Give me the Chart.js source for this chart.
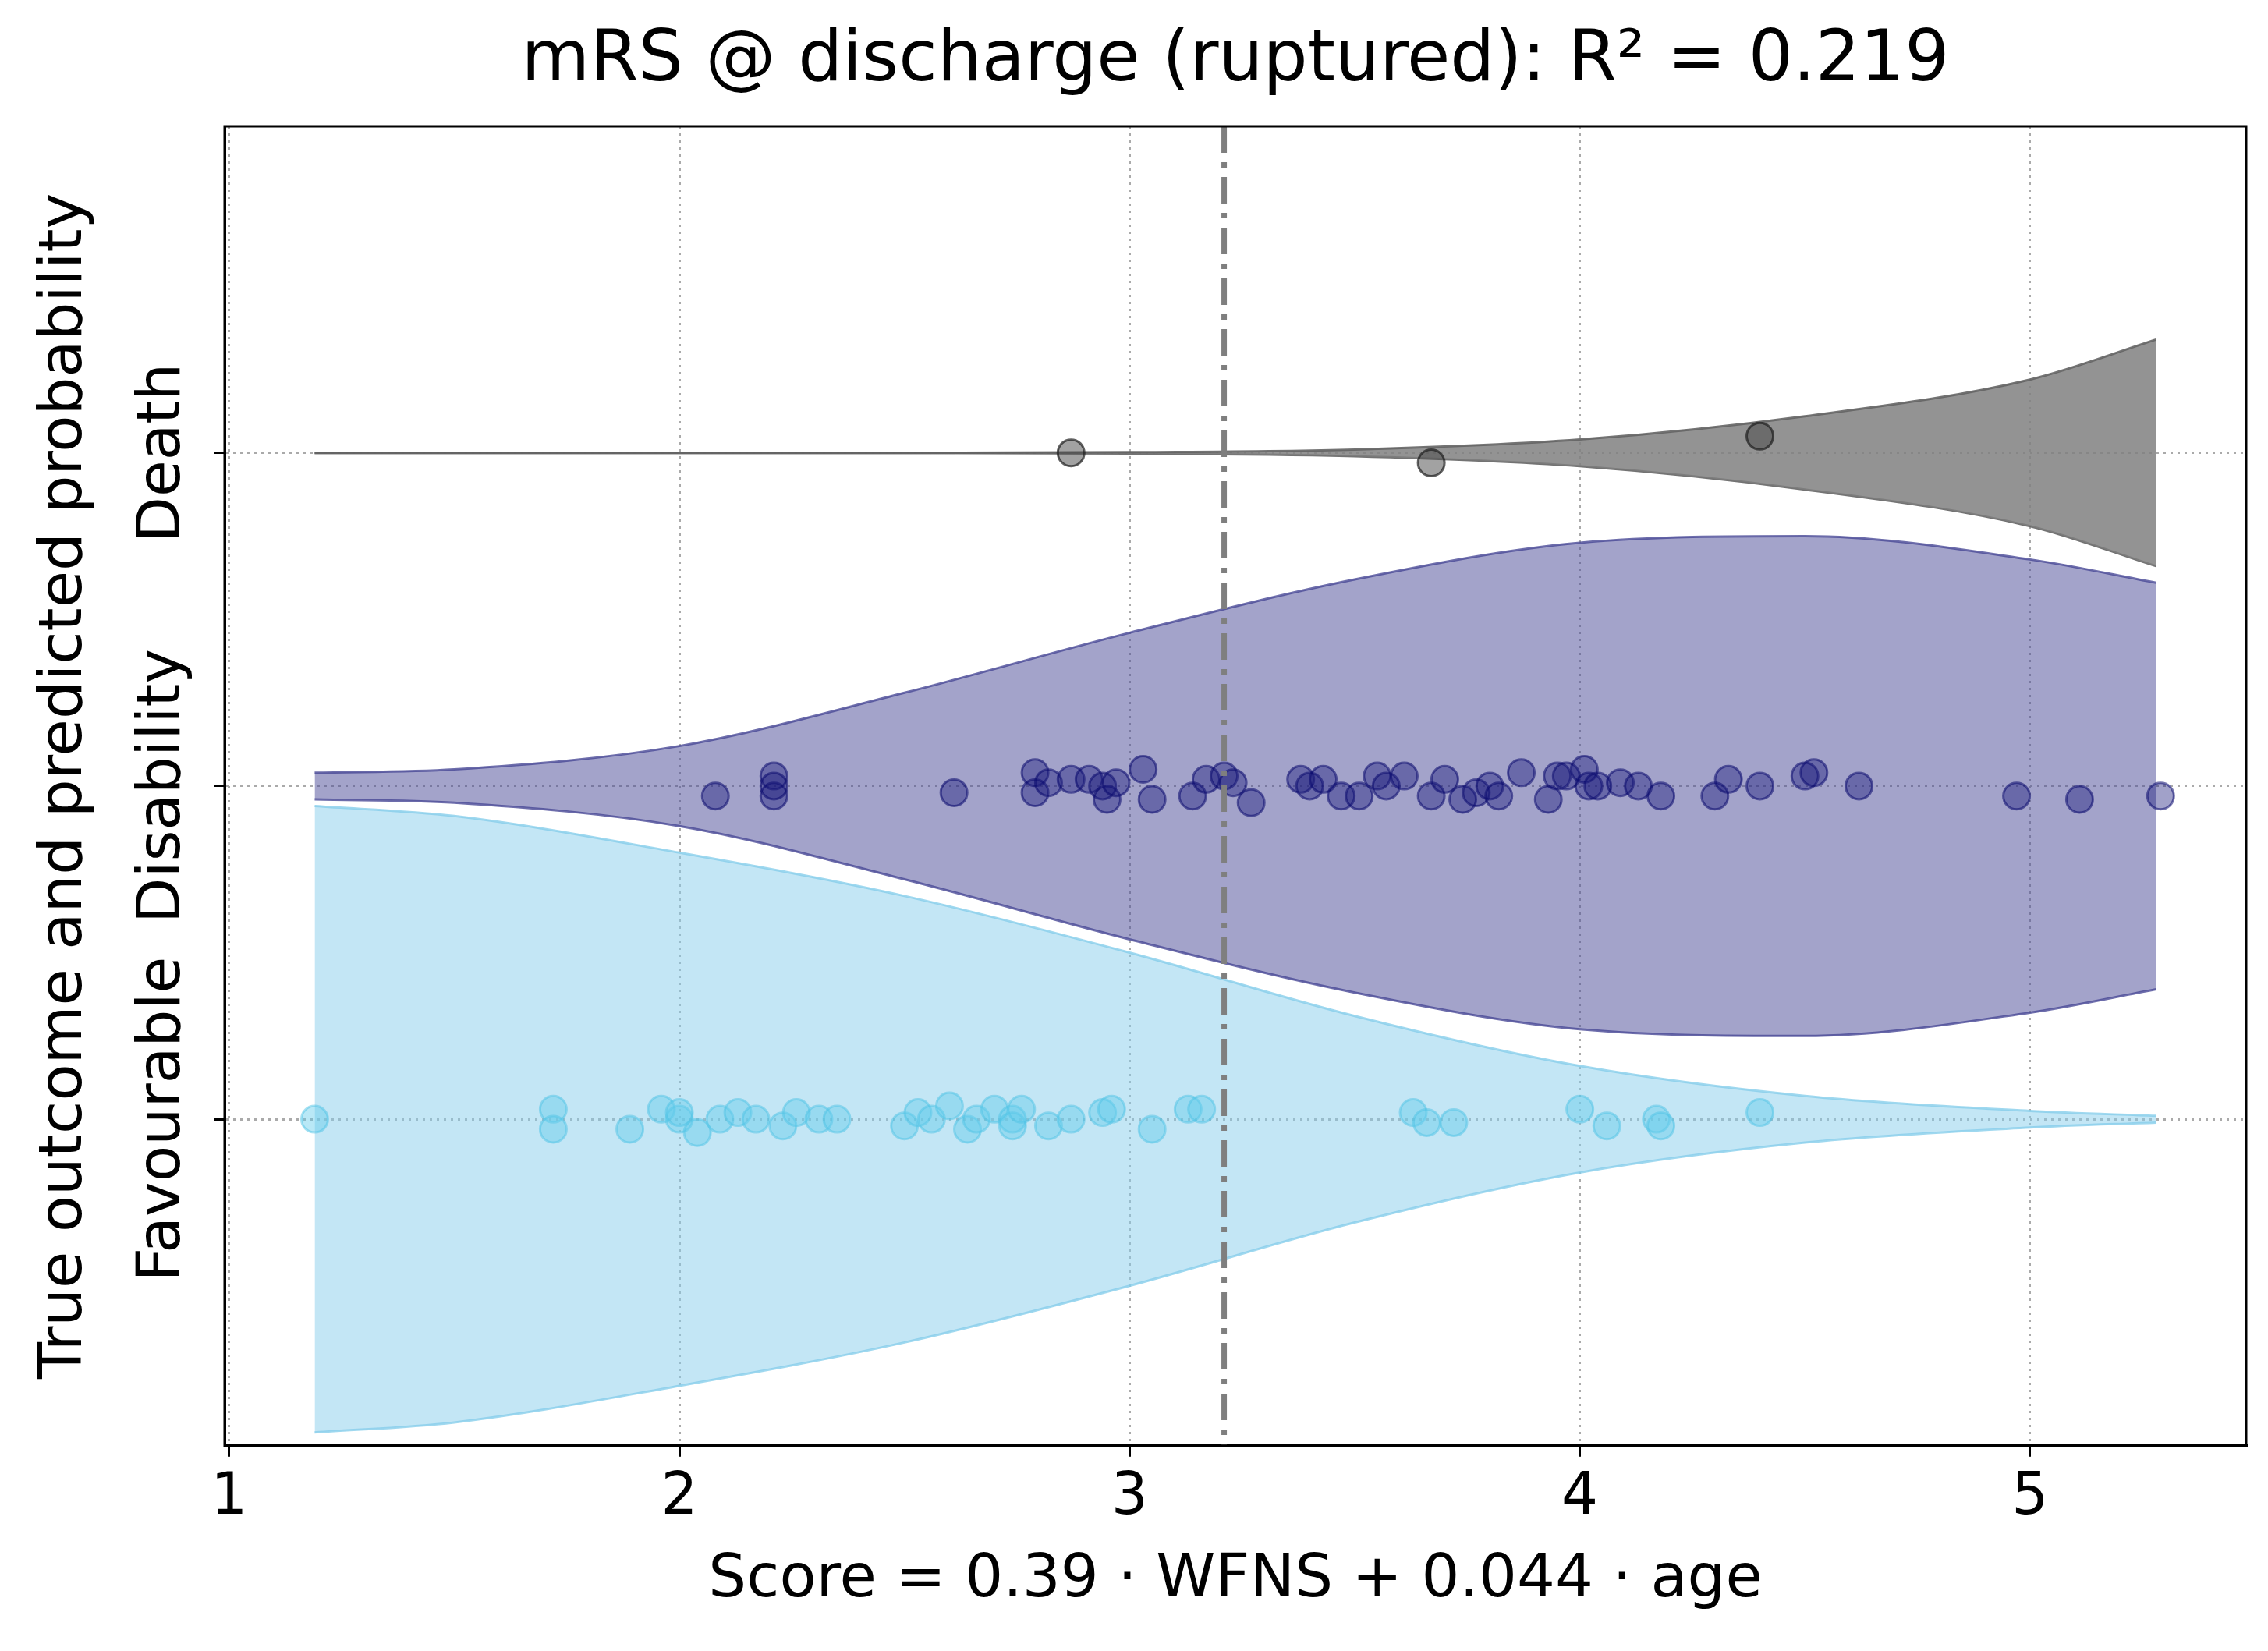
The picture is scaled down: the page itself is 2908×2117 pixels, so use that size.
<!DOCTYPE html>
<html>
<head>
<meta charset="utf-8">
<script src="https://cdn.jsdelivr.net/npm/chart.js@4/dist/chart.umd.min.js"></script>
<style>
  body { margin: 0; background: #fff; }
  #wrap { width: 2908px; height: 2117px; }
</style>
</head>
<body>
<div id="wrap"><canvas id="chart" width="2908" height="2117"></canvas></div>
<script>
// Outcome categories (y = 0, 1, 2)
const categories = ['Favourable', 'Disability', 'Death'];

// Violin half-widths (predicted probability) along the score axis
const violinX = [1.19, 1.5, 2.0, 2.5, 3.0, 3.5, 4.0, 4.5, 5.0, 5.28];
const favourableWidth = [0.94, 0.91, 0.80, 0.67, 0.50, 0.31, 0.16, 0.07, 0.025, 0.01];
const disabilityWidth = [0.04, 0.05, 0.12, 0.28, 0.46, 0.62, 0.73, 0.75, 0.68, 0.61];
const deathWidth = [0.0, 0.0, 0.0, 0.0, 0.002, 0.01, 0.04, 0.11, 0.22, 0.34];

// Observed patients: score and small vertical jitter
const deathX = [2.87, 3.67, 4.40];
const deathJitter = [0.0, -0.03, 0.05];
const disabilityX = [2.08, 2.21, 2.21, 2.21, 2.61, 2.79, 2.79, 2.82, 2.87, 2.91, 2.94, 2.95, 2.97, 3.03, 3.05, 3.14, 3.17, 3.21, 3.23, 3.27,
  3.38, 3.40, 3.43, 3.47, 3.51, 3.55, 3.57, 3.61, 3.67, 3.70, 3.74, 3.77, 3.80, 3.82, 3.87, 3.93, 3.95, 3.97, 4.01, 4.02,
  4.04, 4.09, 4.13, 4.18, 4.30, 4.33, 4.40, 4.50, 4.52, 4.62, 4.97, 5.11, 5.29];
const disabilityJitter = [-0.03, 0.03, -0.03, 0.0, -0.02, 0.04, -0.02, 0.01, 0.02, 0.02, 0.0, -0.04, 0.01, 0.05, -0.04, -0.03, 0.02, 0.03, 0.01, -0.05,
  0.02, 0.0, 0.02, -0.03, -0.03, 0.03, 0.0, 0.03, -0.03, 0.02, -0.04, -0.02, 0.0, -0.03, 0.04, -0.04, 0.03, 0.03, 0.05, 0.0,
  0.0, 0.01, 0.0, -0.03, -0.03, 0.02, 0.0, 0.03, 0.04, 0.0, -0.03, -0.04, -0.03];
const favourableX = [1.19, 1.72, 1.72, 1.89, 1.96, 2.0, 2.0, 2.04, 2.09, 2.13, 2.17, 2.23, 2.26, 2.31, 2.35, 2.50, 2.53, 2.56, 2.60, 2.64,
  2.66, 2.70, 2.74, 2.74, 2.76, 2.82, 2.87, 2.94, 2.96, 3.05, 3.13, 3.16, 3.63, 3.66, 3.72, 4.00, 4.06, 4.17, 4.18, 4.40];
const favourableJitter = [0.0, 0.03, -0.03, -0.03, 0.03, 0.0, 0.02, -0.04, 0.0, 0.02, 0.0, -0.02, 0.02, 0.0, 0.0, -0.02, 0.02, 0.0, 0.04, -0.03,
  0.0, 0.03, 0.0, -0.02, 0.03, -0.02, 0.0, 0.02, 0.03, -0.03, 0.03, 0.03, 0.02, -0.01, -0.01, 0.03, -0.02, 0.0, -0.02, 0.02];

// Decision threshold
const thresholdX = 3.21;

const xTicks = [1, 2, 3, 4, 5];

// Build an upper/lower edge pair for a violin centred on y
function violin(center, widths, fillColor, lineColor) {
  const upper = violinX.map((x, i) => ({ x: x, y: center + widths[i] }));
  const lower = violinX.map((x, i) => ({ x: x, y: center - widths[i] }));
  const base = {
    type: 'line', showLine: true, pointRadius: 0, cubicInterpolationMode: 'monotone',
    borderColor: lineColor, borderWidth: 3, order: 5,
  };
  return [
    Object.assign({}, base, { data: upper, fill: '+1', backgroundColor: fillColor }),
    Object.assign({}, base, { data: lower, fill: false }),
  ];
}

function points(xs, jitter, center, fill, edge) {
  return {
    type: 'scatter',
    data: xs.map((x, i) => ({ x: x, y: center + jitter[i] })),
    pointRadius: 17, pointBackgroundColor: fill, pointBorderColor: edge,
    pointBorderWidth: 3, order: 1,
  };
}

// Frame, dash-dot threshold line and rotated category labels
const extras = {
  id: 'extras',
  afterDatasetsDraw(chart) {
    const { ctx, scales, chartArea } = chart;
    const px = scales.x.getPixelForValue(thresholdX);
    ctx.save();
    ctx.strokeStyle = '#7f7f7f';
    ctx.lineWidth = 7;
    ctx.setLineDash([34, 12, 7, 12]);
    ctx.beginPath();
    ctx.moveTo(px, chartArea.top);
    ctx.lineTo(px, chartArea.bottom);
    ctx.stroke();
    ctx.restore();
  },
  afterDraw(chart) {
    const { ctx, scales, chartArea } = chart;
    ctx.save();
    ctx.strokeStyle = '#000';
    ctx.lineWidth = 3;
    ctx.strokeRect(chartArea.left, chartArea.top, chartArea.right - chartArea.left, chartArea.bottom - chartArea.top);
    ctx.fillStyle = '#000';
    ctx.font = '76px "DejaVu Sans"';
    ctx.textAlign = 'center';
    ctx.textBaseline = 'bottom';
    categories.forEach((c, i) => {
      const py = scales.y.getPixelForValue(i);
      ctx.save();
      ctx.translate(scales.y.right - 40, py);
      ctx.rotate(-Math.PI / 2);
      ctx.fillText(c, 0, 0);
      ctx.restore();
    });
    ctx.restore();
  },
};

const gridStyle = { color: '#aaaaaa', lineWidth: 3, tickColor: '#000', tickLength: 14 };
const borderStyle = { color: '#000', width: 3, dash: [3, 6] };

const ctx = document.getElementById('chart').getContext('2d');
new Chart(ctx, {
  data: {
    datasets: [
      ...violin(0, favourableWidth, 'rgba(135,206,235,0.5)', 'rgba(135,206,235,0.8)'),
      ...violin(1, disabilityWidth, 'rgba(72,72,150,0.5)', 'rgba(72,72,150,0.8)'),
      ...violin(2, deathWidth, 'rgba(128,128,128,0.85)', 'rgba(100,100,100,0.9)'),
      points(favourableX, favourableJitter, 0, 'rgba(100,205,235,0.45)', 'rgba(80,195,230,0.5)'),
      points(disabilityX, disabilityJitter, 1, 'rgba(20,20,120,0.4)', 'rgba(10,10,110,0.55)'),
      points(deathX, deathJitter, 2, 'rgba(70,70,70,0.5)', 'rgba(30,30,30,0.7)'),
    ],
  },
  options: {
    responsive: false,
    animation: false,
    devicePixelRatio: 1,
    layout: { padding: { top: 16, right: 28, left: 38, bottom: 40 } },
    plugins: {
      legend: { display: false },
      tooltip: { enabled: false },
      title: {
        display: true,
        fullSize: false,
        text: 'mRS @ discharge (ruptured): R² = 0.219',
        color: '#000',
        font: { family: 'DejaVu Sans', size: 90, weight: 'normal' },
        padding: { top: 10, bottom: 28 },
      },
    },
    scales: {
      x: {
        type: 'linear', min: 0.99, max: 5.48,
        afterBuildTicks: (s) => { s.ticks = xTicks.map((v) => ({ value: v })); },
        ticks: { color: '#000', font: { family: 'DejaVu Sans', size: 74 }, padding: 10 },
        grid: gridStyle,
        border: borderStyle,
        title: {
          display: true, text: 'Score = 0.39 · WFNS + 0.044 · age', color: '#000',
          font: { family: 'DejaVu Sans', size: 77 }, padding: { top: 4 },
        },
      },
      y: {
        type: 'linear', min: -0.98, max: 2.98,
        afterBuildTicks: (s) => { s.ticks = categories.map((c, i) => ({ value: i })); },
        afterFit: (s) => { s.width = 250; },
        ticks: { callback: () => '', padding: 0 },
        grid: gridStyle,
        border: borderStyle,
        title: {
          display: true, text: 'True outcome and predicted probability', color: '#000',
          font: { family: 'DejaVu Sans', size: 77 }, padding: 0,
        },
      },
    },
  },
  plugins: [extras],
});
</script>
</body>
</html>
